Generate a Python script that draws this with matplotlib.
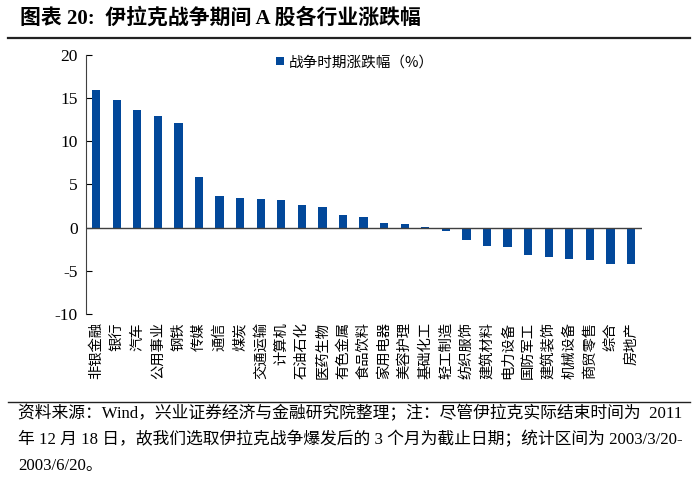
import numpy as np
import matplotlib
matplotlib.use("Agg")
import matplotlib.pyplot as plt
from matplotlib.lines import Line2D

plt.rcParams['font.family'] = ['Liberation Serif', 'Noto Sans CJK SC', 'DejaVu Sans']
plt.rcParams['axes.unicode_minus'] = False

industries = ['非银金融', '银行', '汽车', '公用事业', '钢铁', '传媒', '通信', '煤炭',
              '交通运输', '计算机', '石油石化', '医药生物', '有色金属', '食品饮料',
              '家用电器', '美容护理', '基础化工', '轻工制造', '纺织服饰', '建筑材料',
              '电力设备', '国防军工', '建筑装饰', '机械设备', '商贸零售', '综合', '房地产']
change = [15.9, 14.8, 13.6, 12.9, 12.1, 5.85, 3.7, 3.4, 3.3, 3.2, 2.6, 2.4, 1.4, 1.24,
          0.5, 0.4, 0.05, -0.35, -1.5, -2.2, -2.3, -3.2, -3.45, -3.7, -3.75, -4.2, -4.2]
yticks = [-10, -5, 0, 5, 10, 15, 20]

bar_color = '#02489A'

fig = plt.figure(figsize=(7, 4.82), dpi=100)
ax = fig.add_axes([0.123, 0.349, 0.794, 0.537])

x = np.arange(len(industries))
ax.bar(x, change, width=0.4, color=bar_color, label='战争时期涨跌幅（%）', zorder=2)
ax.axhline(0, color='#404040', lw=1.0, zorder=3)

ax.set_xlim(-0.49, len(industries) - 1 + 0.53)
ax.set_ylim(-10, 20)
ax.set_yticks(yticks)
ax.set_yticklabels([str(v) for v in yticks], fontsize=12.5)
ax.tick_params(axis='y', direction='in', length=4, width=0.8, pad=6)
ax.set_xticks(x)
ax.set_xticklabels(industries, rotation=90, fontsize=10.3, family=['Noto Sans CJK SC'])
ax.tick_params(axis='x', length=0, pad=6)

for s in ['top', 'right', 'bottom']:
    ax.spines[s].set_visible(False)
ax.spines['left'].set_color('#404040')
ax.spines['left'].set_linewidth(0.8)

ax.legend(loc='upper left', bbox_to_anchor=(0.318, 1.05), frameon=False,
          handlelength=0.55, handleheight=0.55, handletextpad=0.3,
          prop={'family': ['Noto Sans CJK SC'], 'size': 10.5})

# title and rules
fig.text(0.028, 0.962, '图表 20:  伊拉克战争期间 A 股各行业涨跌幅', fontsize=15,
         fontweight='bold', va='center', ha='left')
fig.add_artist(Line2D([0.011, 0.986], [0.921, 0.921], color='#222222', lw=1.6))
fig.add_artist(Line2D([0.011, 0.986], [0.167, 0.167], color='#222222', lw=1.0))

notes = ['资料来源：Wind，兴业证券经济与金融研究院整理；注：尽管伊拉克实际结束时间为  2011',
         '年 12 月 18 日，故我们选取伊拉克战争爆发后的 3 个月为截止日期；统计区间为 2003/3/20-',
         '2003/6/20。']
for i, line in enumerate(notes):
    fig.text(0.026, 0.142 - i * 0.054, line, fontsize=12.1, va='center', ha='left')

fig.savefig('out.png', dpi=100)
